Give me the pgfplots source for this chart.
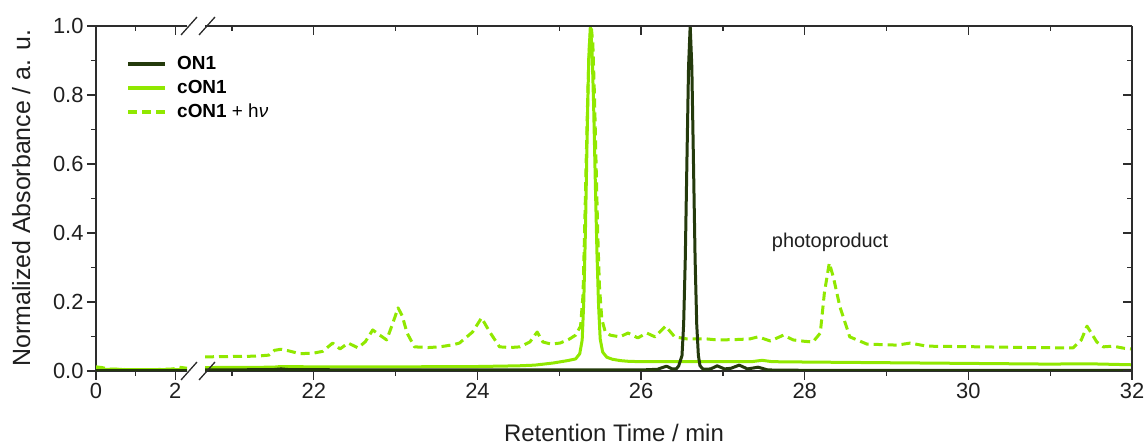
\documentclass[border=0pt]{standalone}
\usepackage{pgfplots}
\pgfplotsset{compat=1.18}
\usepackage{pgfplotstable}
\usepackage{fontspec}
\setmainfont{Liberation Sans}
\definecolor{darkg}{RGB}{36,58,12}
\definecolor{lime}{RGB}{144,232,0}
\definecolor{axgray}{RGB}{45,45,45}

% ---------- segment A (0 - 2.3 min) ----------
\pgfplotstableread{
x y
0 0.012
0.15 0.010
0.3 0.006
0.8 0.004
1.5 0.004
1.95 0.006
2.1 0.011
2.3 0.008
}\Adash
\pgfplotstableread{
x y
0 0.005
1 0.004
2 0.004
2.3 0.005
}\Asolid
\pgfplotstableread{
x y
0 0.001
2.3 0.001
}\Adark

% ---------- segment B (20.67 - 32 min) ----------
\pgfplotstableread{
x y
20.67 0.041
21.0 0.042
21.3 0.043
21.45 0.046
21.52 0.060
21.6 0.063
21.7 0.058
21.83 0.050
22.0 0.052
22.11 0.057
22.23 0.081
22.32 0.064
22.42 0.081
22.54 0.067
22.63 0.085
22.72 0.119
22.80 0.105
22.89 0.090
22.96 0.135
23.03 0.183
23.08 0.160
23.14 0.110
23.23 0.070
23.40 0.068
23.54 0.070
23.70 0.076
23.78 0.081
23.94 0.113
24.05 0.154
24.15 0.113
24.27 0.070
24.40 0.068
24.52 0.070
24.64 0.084
24.73 0.113
24.80 0.084
24.90 0.078
25.01 0.081
25.12 0.092
25.20 0.104
25.26 0.13
25.29 0.22
25.31 0.41
25.33 0.62
25.35 0.82
25.37 0.95
25.39 1.0
25.41 0.95
25.43 0.80
25.45 0.60
25.47 0.40
25.49 0.25
25.52 0.15
25.56 0.115
25.62 0.104
25.74 0.099
25.84 0.110
25.96 0.096
26.07 0.110
26.17 0.099
26.30 0.130
26.41 0.099
26.56 0.093
26.80 0.093
26.93 0.090
27.15 0.091
27.33 0.093
27.43 0.099
27.58 0.087
27.74 0.104
27.86 0.090
28.00 0.086
28.10 0.084
28.19 0.110
28.24 0.226
28.30 0.313
28.35 0.272
28.43 0.186
28.55 0.099
28.76 0.078
29.00 0.076
29.13 0.075
29.29 0.081
29.49 0.072
29.80 0.071
30.18 0.070
30.70 0.068
31.28 0.067
31.38 0.090
31.45 0.130
31.57 0.084
31.65 0.070
31.77 0.072
31.90 0.066
32.0 0.064
}\Bdash
\pgfplotstableread{
x y
20.67 0.010
21.5 0.011
21.6 0.013
22.0 0.012
23.0 0.012
24.0 0.013
24.5 0.015
24.7 0.017
24.92 0.023
25.10 0.030
25.20 0.035
25.25 0.05
25.28 0.09
25.30 0.206
25.32 0.41
25.34 0.674
25.36 0.906
25.38 1.0
25.40 0.936
25.42 0.768
25.44 0.552
25.46 0.347
25.48 0.191
25.50 0.093
25.53 0.055
25.58 0.040
25.65 0.034
25.75 0.030
25.85 0.028
26.0 0.027
26.5 0.027
27.0 0.027
27.35 0.027
27.48 0.031
27.6 0.027
28.0 0.026
29.0 0.024
30.0 0.022
31.0 0.020
31.45 0.021
32.0 0.018
}\Bsolid
\pgfplotstableread{
x y
20.67 0.003
21.5 0.004
21.6 0.006
21.7 0.004
23.0 0.003
25.0 0.003
26.0 0.003
26.2 0.005
26.31 0.014
26.38 0.006
26.43 0.006
26.46 0.015
26.50 0.045
26.52 0.135
26.54 0.325
26.56 0.607
26.58 0.882
26.60 1.0
26.62 0.882
26.64 0.607
26.66 0.325
26.68 0.135
26.70 0.045
26.72 0.015
26.76 0.005
26.85 0.006
26.93 0.015
27.02 0.006
27.10 0.008
27.20 0.017
27.30 0.006
27.43 0.011
27.55 0.003
28.0 0.002
32.0 0.002
}\Bdark

\pgfplotsset{
  brk/.style={
    scale only axis, height=345bp, ymin=0, ymax=1,
    axis line style={-, line width=1.3bp, axgray},
    major tick length=9bp, minor tick length=5bp,
    tick style={line width=1.2bp, axgray},
    tick label style={font=\fontsize{22}{26}\selectfont, text=black!88},
  },
  dashS/.style={lime, line width=3bp, dash pattern=on 9bp off 5bp, line join=round},
  solS/.style={lime, line width=3bp, line join=round},
  darkS/.style={darkg, line width=3bp, line join=round},
}

\begin{document}
\begin{tikzpicture}
\useasboundingbox (0bp,0bp) rectangle (1147bp,446bp);

% ---- segment A ----
\begin{axis}[brk, at={(96bp,75bp)}, anchor=south west, width=91bp,
  xmin=0, xmax=2.3,
  axis x line*=bottom, axis y line*=left, tick align=outside,
  xtick={0,2}, xticklabels={0,2}, minor xtick={1},
  ytick={0,0.2,0.4,0.6,0.8,1}, yticklabels={0.0,0.2,0.4,0.6,0.8,1.0},
  minor ytick={0.1,0.3,0.5,0.7,0.9},
  reverse legend,
  legend style={at={(axis description cs:0.33,0.918)}, anchor=north west,
    draw=none, fill=none, inner sep=0pt, row sep=5bp,
    font=\fontsize{19}{23}\selectfont,
    nodes={inner sep=2bp}},
  legend cell align=left,
  legend image code/.code={\draw[#1,line width=4bp] (0bp,0bp) -- (37bp,0bp);},
]
\addplot[dashS] table {\Adash};
\addlegendentry{\hspace*{8bp}\textbf{cON1} + h\textit{ν}}
\addplot[solS] table {\Asolid};
\addlegendentry{\hspace*{8bp}\textbf{cON1}}
\addplot[darkS] table {\Adark};
\addlegendentry{\hspace*{8bp}\textbf{ON1}}
\end{axis}
\begin{axis}[brk, at={(96bp,75bp)}, anchor=south west, width=91bp,
  xmin=0, xmax=2.3,
  axis x line*=top, axis y line*=none, tick align=inside,
  y axis line style={draw=none},
  xtick={0,2}, xticklabels={}, minor xtick={1}, ytick=\empty]
\end{axis}

% ---- segment B ----
\begin{axis}[brk, at={(205bp,75bp)}, anchor=south west, width=927bp,
  xmin=20.67, xmax=32,
  axis x line*=bottom, axis y line*=none, tick align=outside,
  y axis line style={draw=none},
  xtick={22,24,26,28,30,32}, xticklabels={22,24,26,28,30,32},
  minor xtick={21,23,25,27,29,31}, ytick=\empty]
\addplot[dashS] table {\Bdash};
\addplot[solS] table {\Bsolid};
\addplot[darkS] table {\Bdark};
\node[font=\fontsize{20}{24}\selectfont, text=black!88] at (axis cs:28.31,0.372) {photoproduct};
\end{axis}
\begin{axis}[brk, at={(205bp,75bp)}, anchor=south west, width=927bp,
  xmin=20.67, xmax=32,
  axis x line*=top, axis y line*=right, tick align=inside,
  xtick={22,24,26,28,30,32}, xticklabels={}, minor xtick={21,23,25,27,29,31},
  ytick={0,0.2,0.4,0.6,0.8,1}, yticklabels={}, minor ytick={0.1,0.3,0.5,0.7,0.9}]
\end{axis}

% ---- axis break marks ----
\draw[axgray, line width=1.3bp] (181bp,66bp) -- (197bp,84bp);
\draw[axgray, line width=1.3bp] (199bp,66bp) -- (215bp,84bp);
\draw[axgray, line width=1.3bp] (181bp,411bp) -- (197bp,429bp);
\draw[axgray, line width=1.3bp] (199bp,411bp) -- (215bp,429bp);

% ---- axis titles ----
\node[rotate=90, anchor=base, font=\fontsize{25}{30}\selectfont, text=black!88] at (30bp,248bp) {Normalized Absorbance / a. u.};
\node[anchor=base, font=\fontsize{24}{28}\selectfont, text=black!88] at (614bp,4.5bp) {Retention Time / min};
\end{tikzpicture}
\end{document}
